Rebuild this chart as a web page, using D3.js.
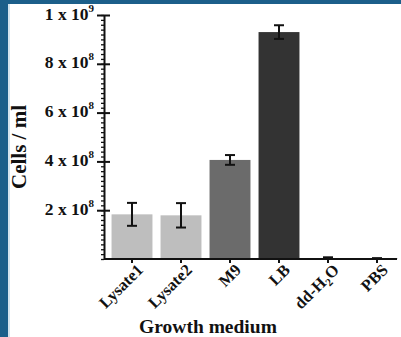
<!DOCTYPE html>
<html>
<head>
<style>
body { margin: 0; width: 401px; height: 337px; overflow: hidden; background: #fff; }
svg { display: block; }
text { font-family: "Liberation Serif", "Times New Roman", serif; font-weight: bold; fill: #111; }
</style>
<script src="https://cdnjs.cloudflare.com/ajax/libs/d3/7.8.5/d3.min.js"></script>
</head>
<body>
<script>
// data
var categories = ["Lysate1", "Lysate2", "M9", "LB", "dd-H2O", "PBS"];
var means = [1.83e8, 1.79e8, 4.06e8, 9.3e8, 4e6, 2e6];
var errors = [0.47e8, 0.5e8, 0.2e8, 0.28e8, 3e6, 1.5e6];
var barColors = ["#bebebe", "#bebebe", "#6b6b6b", "#333333", "#333333", "#333333"];
var yTickValues = [2e8, 4e8, 6e8, 8e8, 1e9];
var yTickMant = ["2", "4", "6", "8", "1"];
var yTickExp = ["8", "8", "8", "8", "9"];

var width = 401, height = 337;
var svg = d3.select("body").append("svg")
	.attr("width", width)
	.attr("height", height);

// slide frame
svg.append("rect").attr("x", 0).attr("y", 0).attr("width", 8).attr("height", height).attr("fill", "#1c5f8a");
svg.append("rect").attr("x", 8).attr("y", 0).attr("width", 2).attr("height", height).attr("fill", "#d5e4ee");
svg.append("rect").attr("x", 0).attr("y", 0).attr("width", width).attr("height", 4).attr("fill", "#1c5f8a");

var x0 = 104, yBase = 259;
var x = d3.scaleBand()
	.domain(categories)
	.range([107.5, 401.5])
	.paddingInner(0.165)
	.paddingOuter(0.0825);
var y = d3.scaleLinear()
	.domain([0, 1e9])
	.range([yBase, 15]);

var rows = categories.map(function(c, i) {
	return {cat: c, mean: means[i], err: errors[i], color: barColors[i]};
});

/* ------- BARS -------*/
svg.append("g").selectAll("rect")
	.data(rows)
	.enter().append("rect")
	.attr("x", function(d) { return x(d.cat); })
	.attr("width", x.bandwidth())
	.attr("y", function(d) { return y(d.mean); })
	.attr("height", function(d) { return yBase - y(d.mean); })
	.attr("fill", function(d) { return d.color; });

/* ------- ERROR BARS -------*/
var eb = svg.append("g").attr("stroke", "#111").attr("stroke-width", 2);
rows.forEach(function(d) {
	var cx = x(d.cat) + x.bandwidth() / 2;
	var cw = 5;
	eb.append("line").attr("x1", cx).attr("x2", cx).attr("y1", y(d.mean + d.err)).attr("y2", y(d.mean - d.err));
	eb.append("line").attr("x1", cx - cw).attr("x2", cx + cw).attr("y1", y(d.mean + d.err)).attr("y2", y(d.mean + d.err));
	eb.append("line").attr("x1", cx - cw).attr("x2", cx + cw).attr("y1", y(d.mean - d.err)).attr("y2", y(d.mean - d.err));
});

/* ------- Y AXIS -------*/
var minor = svg.append("g")
	.attr("transform", "translate(" + x0 + ",0)")
	.call(d3.axisLeft(y).tickValues(d3.range(0, 1e9 + 1, 2e7)).tickSize(3).tickFormat(""));
minor.select(".domain").remove();
minor.selectAll("line").attr("stroke", "#111").attr("stroke-width", 1.3);

var major = svg.append("g")
	.attr("transform", "translate(" + x0 + ",0)")
	.call(d3.axisLeft(y).tickValues(yTickValues).tickSizeInner(7).tickSizeOuter(0).tickFormat(""));
major.select(".domain").attr("stroke", "#111").attr("stroke-width", 2);
major.selectAll(".tick line").attr("x1", 6).attr("stroke", "#111").attr("stroke-width", 2);

var ylab = svg.append("g").selectAll("text")
	.data(yTickValues)
	.enter().append("text")
	.attr("x", 94)
	.attr("y", function(d) { return y(d) + 4.5; })
	.attr("text-anchor", "end")
	.style("font-size", "17.5px");
ylab.append("tspan").text(function(d, i) { return yTickMant[i] + " x 10"; });
ylab.append("tspan").attr("dy", -8).style("font-size", "11px").text(function(d, i) { return yTickExp[i]; });

/* ------- X AXIS -------*/
var xa = svg.append("g")
	.attr("transform", "translate(0," + yBase + ")")
	.call(d3.axisBottom(x).tickSizeInner(4).tickSizeOuter(0).tickFormat(""));
xa.select(".domain").attr("d", "M" + x0 + ",0H397").attr("stroke", "#111").attr("stroke-width", 2);
xa.selectAll(".tick line").attr("stroke", "#111").attr("stroke-width", 2);

var xl = svg.append("g").selectAll("text")
	.data(categories)
	.enter().append("text")
	.attr("text-anchor", "end")
	.style("font-size", "16.5px")
	.attr("transform", function(d) {
		return "translate(" + (x(d) + x.bandwidth() / 2 + 12) + "," + (yBase + 12) + ") rotate(-45)";
	});
xl.each(function(d) {
	var t = d3.select(this);
	if (d === "dd-H2O") {
		t.append("tspan").text("dd-H");
		t.append("tspan").attr("dy", 4).style("font-size", "11px").text("2");
		t.append("tspan").attr("dy", -4).text("O");
	} else {
		t.text(d);
	}
});

/* ------- AXIS TITLES -------*/
svg.append("text")
	.attr("x", 208)
	.attr("y", 333)
	.attr("text-anchor", "middle")
	.style("font-size", "19.5px")
	.text("Growth medium");

svg.append("text")
	.attr("transform", "translate(26,147) rotate(-90)")
	.attr("text-anchor", "middle")
	.style("font-size", "21px")
	.text("Cells / ml");
</script>
</body>
</html>
